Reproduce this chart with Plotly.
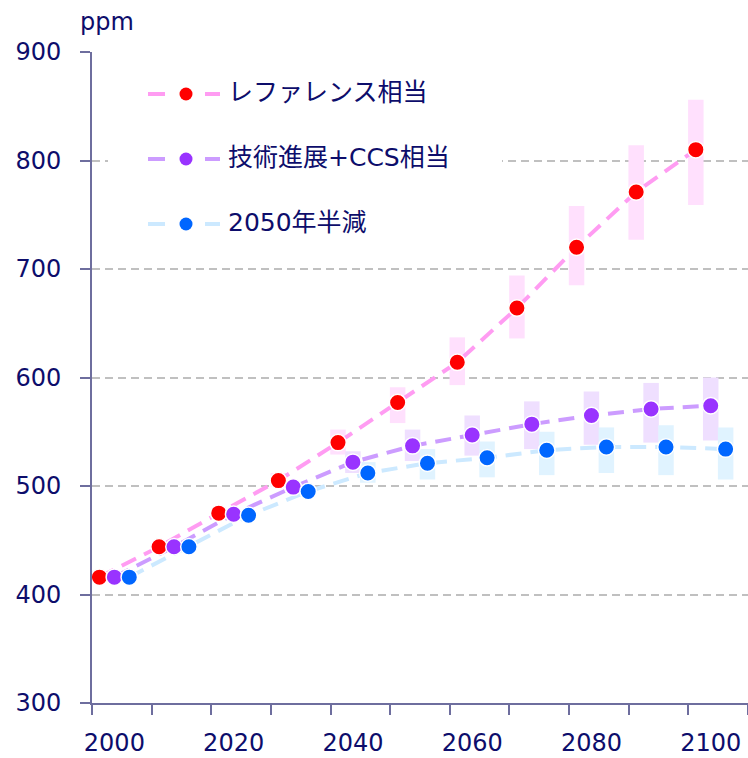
import plotly.graph_objects as go

# ---------------- data ----------------
years = [2000, 2010, 2020, 2030, 2040, 2050, 2060, 2070, 2080, 2090, 2100]
ref_vals = [416, 444, 475, 505, 540, 577, 614, 664, 720, 771, 810]
tech_vals = [416, 444, 474, 499, 522, 537, 547, 557, 565, 571, 574]
half_vals = [416, 444, 473, 495, 512, 521, 526, 533, 536, 536, 534]

ref_bar_years = [2030, 2040, 2050, 2060, 2070, 2080, 2090, 2100]
ref_lo = [499, 529, 558, 593, 636, 685, 727, 759]
ref_hi = [512, 552, 591, 637, 694, 758, 814, 856]

tech_bar_years = [2040, 2050, 2060, 2070, 2080, 2090, 2100]
tech_lo = [512, 523, 528, 534, 538, 540, 542]
tech_hi = [532, 552, 565, 578, 587, 595, 600]

half_bar_years = [2040, 2050, 2060, 2070, 2080, 2090, 2100]
half_lo = [503, 506, 508, 510, 512, 510, 506]
half_hi = [522, 534, 541, 550, 554, 556, 554]

series_names = ["レファレンス相当", "技術進展+CCS相当", "2050年半減"]
tick_years = [2000, 2020, 2040, 2060, 2080, 2100]
tick_labels = ["2000", "2020", "2040", "2060", "2080", "2100"]
y_unit = "ppm"

# ---------------- style ----------------
FONT = "DejaVu Sans, Noto Sans CJK JP, sans-serif"
TEXT = "#0d0d6b"
AXIS = "#6e6e9e"
GRID = "#c0c0c0"
marker_cols = ["#ff0000", "#9933ff", "#0066ff"]
line_cols = ["#ff9cf2", "#cc9cff", "#cce9ff"]
bar_cols = ["#ffe0fd", "#efdfff", "#e0f3ff"]
offsets = [-3.75, -1.25, 1.25]   # position of each series inside a decade slot
BAR_W = 2.6

W, H = 748, 758
ML, MR, MT, MB = 92, 0, 52, 55
PW, PH = W - ML - MR, H - MT - MB

def px_x(px):
    return (px - ML) / PW

def px_y(py):
    return (H - MB - py) / PH

fig = go.Figure()

# range bars
bar_sets = [(ref_bar_years, ref_lo, ref_hi), (tech_bar_years, tech_lo, tech_hi), (half_bar_years, half_lo, half_hi)]
for i, (byrs, lo, hi) in enumerate(bar_sets):
    fig.add_trace(go.Bar(
        x=[y + offsets[i] for y in byrs],
        y=[h - l for h, l in zip(hi, lo)],
        base=lo,
        width=BAR_W,
        marker=dict(color=bar_cols[i], line=dict(width=0)),
        showlegend=False,
        hoverinfo="skip",
    ))

all_vals = [ref_vals, tech_vals, half_vals]
# dashed lines
for i, vals in enumerate(all_vals):
    fig.add_trace(go.Scatter(
        x=[y + offsets[i] for y in years], y=vals, mode="lines",
        line=dict(color=line_cols[i], width=4, dash="16px,9px"),
        showlegend=False, hoverinfo="skip",
    ))
# markers
for i, vals in enumerate(all_vals):
    fig.add_trace(go.Scatter(
        x=[y + offsets[i] for y in years], y=vals, mode="markers",
        marker=dict(color=marker_cols[i], size=16.5, line=dict(color="white", width=1.5)),
        name=series_names[i], showlegend=False,
    ))

shapes = []
annotations = []
# legend background
shapes.append(dict(type="rect", xref="paper", yref="paper",
                   x0=px_x(108), x1=px_x(502), y0=px_y(255), y1=px_y(62),
                   fillcolor="white", line=dict(width=0), layer="above"))
rows = [94, 159, 224]
for i, ry in enumerate(rows):
    for (a, b) in [(148, 165), (205, 220)]:
        shapes.append(dict(type="line", xref="paper", yref="paper",
                           x0=px_x(a), x1=px_x(b), y0=px_y(ry), y1=px_y(ry),
                           line=dict(color=line_cols[i], width=4), layer="above"))
    r = 6.5
    shapes.append(dict(type="circle", xref="paper", yref="paper",
                       x0=px_x(186 - r), x1=px_x(186 + r), y0=px_y(ry + r), y1=px_y(ry - r),
                       fillcolor=marker_cols[i], line=dict(width=0), layer="above"))
    annotations.append(dict(text=series_names[i], xref="paper", yref="paper",
                            x=px_x(226), y=px_y(ry - 2), xanchor="left", yanchor="middle",
                            showarrow=False, font=dict(size=25, color=TEXT, family=FONT)))

annotations.append(dict(text=y_unit, xref="paper", yref="paper",
                        x=px_x(107), y=px_y(22), xanchor="center", yanchor="middle",
                        showarrow=False, font=dict(size=24, color=TEXT, family=FONT)))

fig.update_layout(
    width=W, height=H,
    margin=dict(l=ML, r=MR, t=MT, b=MB, autoexpand=False),
    plot_bgcolor="white", paper_bgcolor="white",
    barmode="overlay", showlegend=False,
    font=dict(family=FONT, color=TEXT, size=24),
    shapes=shapes, annotations=annotations,
    xaxis=dict(
        range=[1995, 2105], tickmode="array",
        tickvals=[y + offsets[1] for y in tick_years], ticktext=tick_labels,
        ticks="", showgrid=False, zeroline=False, automargin=False,
        showline=True, linecolor=AXIS, linewidth=2,
        tickfont=dict(size=24, color=TEXT, family=FONT),
        ticklabelstandoff=17,
        minor=dict(tickmode="array", tickvals=[1995 + 10 * k for k in range(12)],
                   ticks="outside", ticklen=10, tickcolor=AXIS, tickwidth=2, showgrid=False),
    ),
    yaxis=dict(
        range=[300, 900], tick0=300, dtick=100, automargin=False,
        ticks="outside", ticklen=10, tickcolor=AXIS, tickwidth=2,
        showline=True, linecolor=AXIS, linewidth=2,
        showgrid=True, gridcolor=GRID, gridwidth=1.5, griddash="8px,5px",
        zeroline=False,
        tickfont=dict(size=24, color=TEXT, family=FONT),
        ticklabelstandoff=14,
    ),
)

fig.write_html(
    "out.html",
    config={"displayModeBar": False},
    post_script="document.body.style.margin='0px';document.body.style.overflow='hidden';",
)
